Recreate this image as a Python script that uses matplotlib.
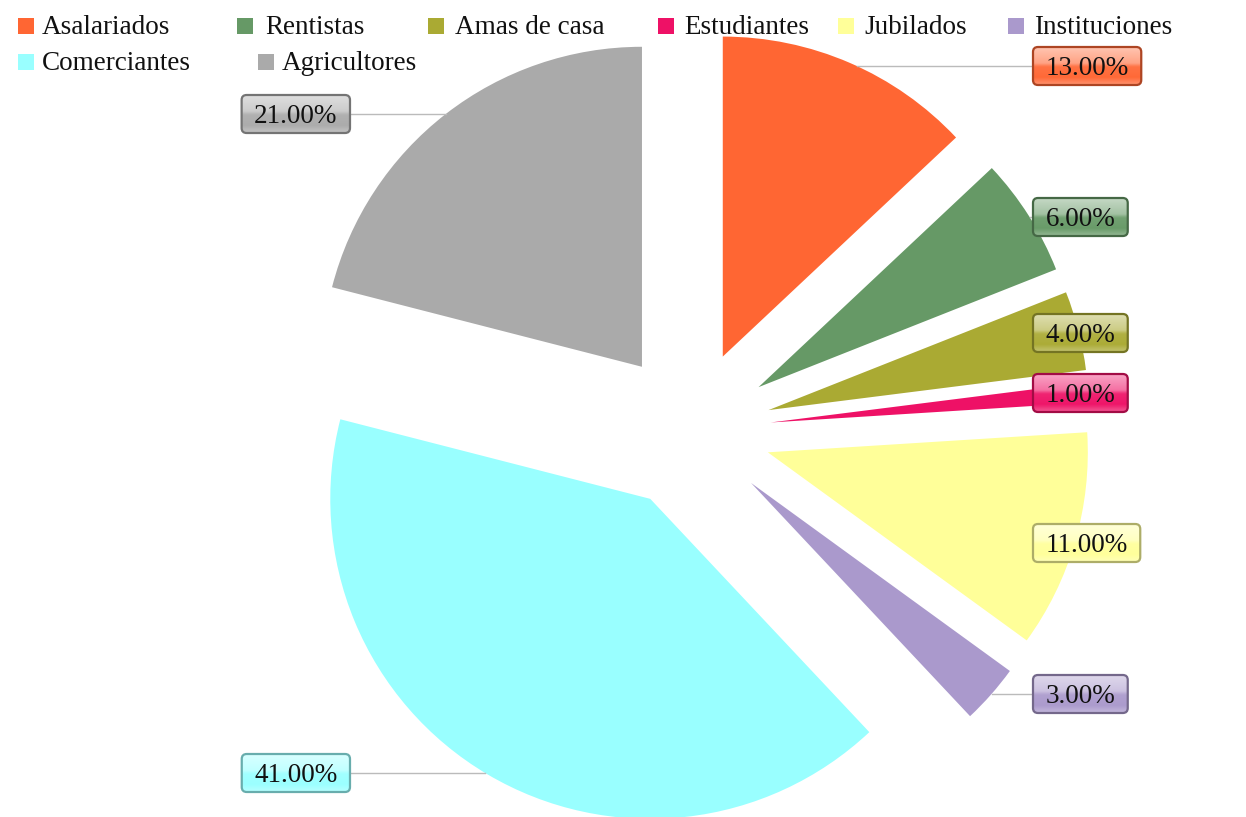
import numpy as np
import matplotlib
matplotlib.use('Agg')
import matplotlib.pyplot as plt
from matplotlib.patches import FancyBboxPatch, Rectangle
from matplotlib.colors import to_rgb

# ---- data ----
categories = ['Asalariados', 'Rentistas', 'Amas de casa', 'Estudiantes',
              'Jubilados', 'Instituciones', 'Comerciantes', 'Agricultores']
values = [13, 6, 4, 1, 11, 3, 41, 21]
colors = ['#FF6633', '#669966', '#AAAA33', '#EE1166',
          '#FFFF99', '#AA99CC', '#99FFFF', '#AAAAAA']
labels = [f'{v:.2f}%' for v in values]

# ---- layout (pixels) ----
W, H = 1246, 817
CX, CY, R = 691, 430, 320
# label box anchor: (edge x, center y, side)  side 'L' -> x is left edge, 'R' -> right edge
label_pos = [(1033, 66, 'L'), (1033, 217, 'L'), (1033, 333, 'L'), (1033, 393, 'L'),
             (1033, 543, 'L'), (1033, 694, 'L'), (350, 773, 'R'), (350, 114, 'R')]
# legend: (marker left x, text x, row center y)
legend_pos = [(18, 42, 26), (237, 265, 26), (428, 455, 26), (658, 684, 26),
              (838, 864, 26), (1008, 1034, 26), (18, 42, 62), (258, 282, 62)]

FONT = 'Liberation Serif'


def X(px):
    return (px - CX) / R


def Y(py):
    return (CY - py) / R


fig = plt.figure(figsize=(W / 100, H / 100), dpi=100)
ax = fig.add_axes([0, 0, 1, 1])
wedges, _ = ax.pie(values, colors=colors, startangle=90, counterclock=False,
                   explode=[0.25] * len(values), radius=1, center=(0, 0),
                   wedgeprops=dict(linewidth=0))
ax.axis('off')

renderer = fig.canvas.get_renderer()


def gradient(c):
    c = np.array(to_rgb(c))
    stops = [(0.0, 0.62), (0.42, 0.40), (0.52, 0.08), (0.8, 0.02), (1.0, 0.30)]
    t = np.linspace(0, 1, 64)
    mix = np.interp(t, [s[0] for s in stops], [s[1] for s in stops])
    img = c[None, :] * (1 - mix[:, None]) + mix[:, None]
    return img[:, None, :]


pad_px = 12.5
box_h = 38
for w, lab, col, (ex, ey, side) in zip(wedges, labels, colors, label_pos):
    t = ax.text(0, 0, lab, fontsize=19.5, family=FONT, color='#111111',
                ha='center', va='center', zorder=5)
    tw = t.get_window_extent(renderer).width
    bw = tw + 2 * pad_px
    if side == 'L':
        x0 = ex
    else:
        x0 = ex - bw
    x1 = x0 + bw
    t.set_position((X((x0 + x1) / 2), Y(ey + 2.5)))
    # leader line
    cx, cy = w.center
    dy = Y(ey) - cy
    if abs(dy) < 1:
        dx = np.sqrt(1 - dy ** 2)
        if side == 'L':
            xs = cx + dx
            if xs < X(x0):
                ax.plot([xs, X(x0)], [Y(ey), Y(ey)], color='#BBBBBB', lw=1, zorder=2)
        else:
            xs = cx - dx
            if xs > X(x1):
                ax.plot([X(x1), xs], [Y(ey), Y(ey)], color='#BBBBBB', lw=1, zorder=2)
    # box
    rgb = np.array(to_rgb(col))
    patch = FancyBboxPatch((X(x0), Y(ey + box_h / 2)), bw / R, box_h / R,
                           boxstyle=f'round,pad=0,rounding_size={5 / R}',
                           facecolor='none', edgecolor=rgb * 0.68, lw=1.6, zorder=4)
    ax.add_patch(patch)
    im = ax.imshow(gradient(col), extent=(X(x0), X(x1), Y(ey + box_h / 2), Y(ey - box_h / 2)),
                   origin='upper', aspect='auto', interpolation='bilinear', zorder=3)
    im.set_clip_path(patch)

# legend
for cat, col, (mx, tx, ry) in zip(categories, colors, legend_pos):
    ax.add_patch(Rectangle((X(mx), Y(ry + 8)), 16 / R, 16 / R, facecolor=col,
                           edgecolor='none', zorder=5))
    ax.text(X(tx), Y(ry + 1), cat, fontsize=19.5, family=FONT, color='#111111',
            ha='left', va='center', zorder=5)

ax.set_xlim(X(0), X(W))
ax.set_ylim(Y(H), Y(0))
ax.set_aspect('auto')
fig.savefig('out.png', dpi=100)
